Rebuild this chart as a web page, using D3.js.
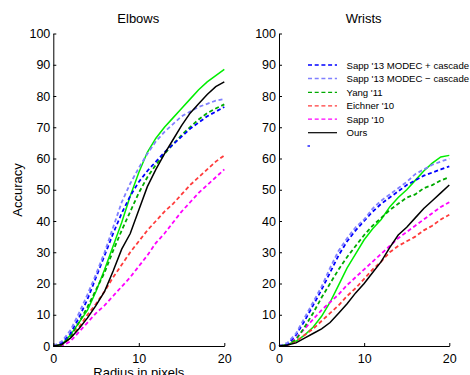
<!DOCTYPE html>
<html>
<head>
<meta charset="utf-8">
<script src="https://cdn.jsdelivr.net/npm/d3@7"></script>
<style>
  body { margin: 0; background: #fff; }
  svg { display: block; font-family: "Liberation Sans", Arial, sans-serif; }
  .axis path, .axis line { stroke: #000; stroke-width: 1; }
  .axis text { font-size: 12px; fill: #000; }
</style>
</head>
<body>
<div id="chart"></div>
<script>
// radius in pixels (x values shared by every curve)
var radius = [0, 1, 2, 3, 4, 5, 6, 7, 8, 9, 10, 11, 12, 13, 14, 15, 16, 17, 18, 19, 20];

// Elbows
var elbowModecPlus  = [0, 1, 4, 9, 15, 22, 29, 36, 42.5, 48, 52.5, 56, 59, 62, 64.5, 67, 69.5, 71.5, 73.5, 75, 76.5];
var elbowModecMinus = [0, 1.5, 5, 10.5, 16.5, 23, 30, 38, 46, 52, 57, 61.5, 65.5, 68.5, 71, 73.5, 75, 76.5, 77.5, 78.5, 79];
var elbowYang       = [0, 0.5, 3, 7.5, 12.5, 18, 23.5, 30.5, 37, 43, 49, 54, 58, 61.5, 64.5, 67.5, 70, 72.5, 74.5, 76, 77.3];
var elbowEichner    = [0, 0.5, 2.5, 6, 10, 13.5, 17.5, 22, 26, 30, 33.5, 37, 40, 43, 45.5, 48.5, 51.5, 54, 56.5, 59, 61];
var elbowSapp10     = [0, 0, 1.5, 4.5, 7.5, 10.5, 13, 16, 19, 22, 25.5, 29, 33, 36, 39.5, 43, 46, 49, 51.5, 54, 56.5];
var elbowOurs       = [0, 0.5, 2.5, 5.5, 9, 13, 17.5, 24, 31, 36, 43.5, 51, 56.5, 61.5, 66, 70.5, 74.5, 77.5, 80.5, 83, 84.5];
var elbowGreen      = [0, 0.5, 3.5, 7.5, 11.5, 17.5, 24.5, 32, 39.5, 48, 55.5, 62, 66.5, 70, 73, 76, 79, 82, 84.5, 86.5, 88.5];

// Wrists
var wristModecPlus  = [0, 0.5, 3.5, 8, 13, 18, 23.5, 29, 33.5, 37, 40, 43, 45.5, 47.5, 49.5, 51.5, 53, 54.5, 55.5, 56.5, 57.5];
var wristModecMinus = [0, 1, 4, 9, 14, 19, 25, 30.5, 34.5, 38, 40.5, 44, 46.5, 48.5, 50.5, 52.5, 55, 56.5, 58, 59, 60];
var wristYang       = [0, 0.5, 2, 6, 10.5, 15.5, 20, 24.5, 28.5, 32, 35.5, 38.5, 41, 43.5, 45.5, 47.5, 48.5, 50.5, 51.5, 53, 54];
var wristEichner    = [0, 0.3, 1.5, 3.5, 5.5, 8, 10.5, 13, 16, 18.5, 21.5, 24.5, 27, 30, 32, 33.5, 35, 37, 38.5, 40.5, 42];
var wristSapp10     = [0, 0.5, 2.5, 5.5, 8.5, 11.5, 14, 16.5, 19.5, 22, 24.5, 27, 29.5, 32, 34.5, 36.5, 38.5, 40.5, 42.5, 44.5, 46];
var wristOurs       = [0, 0.3, 1, 2.5, 4, 5.5, 7.5, 10.5, 13.5, 17, 20, 23.5, 27, 31.5, 35.5, 38, 41, 44, 46.5, 49, 51.5];
var wristGreen      = [0, 0.5, 1.5, 3.5, 6, 9.5, 14, 19.5, 25, 29.5, 34, 37.5, 40.5, 44.5, 47.5, 50, 53, 56, 58.5, 60.5, 61];

var xTicks = [0, 10, 20];
var yTicks = [0, 10, 20, 30, 40, 50, 60, 70, 80, 90, 100];

var seriesNames  = ["Sapp '13 MODEC + cascade", "Sapp '13 MODEC \u2212 cascade", "Yang '11", "Eichner '10", "Sapp '10", "Ours", ""];
var seriesColors = ["#0000ff", "#8080ff", "#00aa00", "#ff3b3b", "#ff00ff", "#000000", "#00ee00"];
var seriesDashed = [true, true, true, true, true, false, false];

var panels = [
  { title: "Elbows", left: 53.3, right: 224.3, ylabel: true,
    series: [elbowModecPlus, elbowModecMinus, elbowYang, elbowEichner, elbowSapp10, elbowOurs, elbowGreen] },
  { title: "Wrists", left: 279, right: 449.3, ylabel: false,
    series: [wristModecPlus, wristModecMinus, wristYang, wristEichner, wristSapp10, wristOurs, wristGreen] }
];

var W = 470, H = 375, plotTop = 33.5, plotBottom = 346;

var svg = d3.select("#chart").append("svg")
  .attr("width", W)
  .attr("height", H);

var y = d3.scaleLinear().domain([0, 100]).range([plotBottom, plotTop]);

panels.forEach(function(p) {
  var x = d3.scaleLinear().domain([0, 20]).range([p.left, p.right]);
  var g = svg.append("g");

  // draw curves (bright green first, under the others)
  var order = [6, 4, 3, 2, 0, 1, 5];
  order.forEach(function(i) {
    var line = d3.line()
      .x(function(d, k) { return x(radius[k]); })
      .y(function(d) { return y(d); });
    g.append("path")
      .datum(p.series[i])
      .attr("d", line)
      .attr("fill", "none")
      .attr("stroke", seriesColors[i])
      .attr("stroke-width", seriesDashed[i] ? 1.8 : 1.5)
      .attr("stroke-dasharray", seriesDashed[i] ? "4,2.7" : null);
  });

  // axes, ticks inward like matlab
  g.append("g")
    .attr("class", "axis")
    .attr("transform", "translate(0," + plotBottom + ")")
    .call(d3.axisBottom(x).tickValues(xTicks).tickSize(-3).tickPadding(8).tickSizeOuter(0));

  g.append("g")
    .attr("class", "axis")
    .attr("transform", "translate(" + p.left + ",0)")
    .call(d3.axisLeft(y).tickValues(yTicks).tickSize(-3).tickPadding(3).tickSizeOuter(0));

  g.selectAll(".axis text").style("font-size", "12.5px");

  g.append("text")
    .attr("x", (p.left + p.right) / 2 - 0.5)
    .attr("y", 22.5)
    .attr("text-anchor", "middle")
    .style("font-size", "13px")
    .text(p.title);

  if (p.ylabel) {
    g.append("text")
      .attr("transform", "translate(22," + 190 + ") rotate(-90)")
      .attr("text-anchor", "middle")
      .style("font-size", "13px")
      .text("Accuracy");
    g.append("text")
      .attr("x", (p.left + p.right) / 2)
      .attr("y", 377)
      .attr("text-anchor", "middle")
      .style("font-size", "13px")
      .text("Radius in pixels");
  }
});

// legend in the wrists panel
var legend = svg.append("g");
var rowY = [65, 78.5, 92.3, 105.8, 119.2, 132.7];
rowY.forEach(function(ry, i) {
  legend.append("line")
    .attr("x1", 308).attr("x2", 337)
    .attr("y1", ry).attr("y2", ry)
    .attr("stroke", seriesColors[i])
    .attr("stroke-width", seriesDashed[i] ? 1.3 : 1.2)
    .attr("stroke-dasharray", seriesDashed[i] ? "4,2.7" : null);
  legend.append("text")
    .attr("x", 346.5)
    .attr("y", ry + 3.5)
    .style("font-size", "9.6px")
    .text(seriesNames[i]);
});
// stray blue mark below the legend
legend.append("line")
  .attr("x1", 307.5).attr("x2", 310)
  .attr("y1", 146).attr("y2", 146)
  .attr("stroke", "#0000ff")
  .attr("stroke-width", 1.3);
</script>
</body>
</html>
